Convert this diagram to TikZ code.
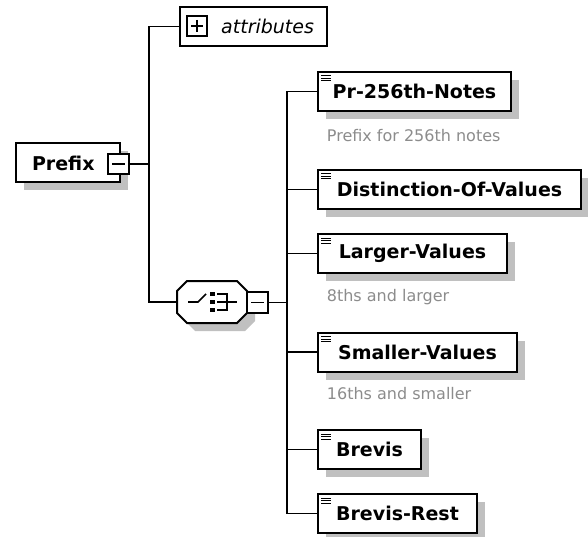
\documentclass[tikz,border=0pt]{standalone}
\usepackage{fontspec}
\setmainfont{DejaVu Sans}
\usetikzlibrary{calc,shadows}
\definecolor{SchemaShadow}{RGB}{192,192,192}
\definecolor{SchemaNote}{RGB}{140,140,140}
\newcommand{\elemfont}{\fontsize{19}{22}\selectfont\bfseries}
\newcommand{\attrfont}{\fontsize{19}{22}\selectfont\itshape}
\newcommand{\notefont}{\fontsize{16}{19}\selectfont}
\newcommand{\octpath}{(-35,-11) -- (-25,-21) -- (25,-21) -- (35,-11) -- (35,11) -- (25,21) -- (-25,21) -- (-35,11) -- cycle}

\begin{document}
\begin{tikzpicture}[x=1pt,y=-1pt,line width=1.8pt,
  shadowed/.style={drop shadow={shadow xshift=8pt,shadow yshift=-8pt,fill=SchemaShadow,opacity=1}},
  elem/.style={draw,fill=white,line width=2pt,shadowed,anchor=west,minimum height=39pt,inner sep=0pt,font=\elemfont},
  btn/.style={draw,fill=white,line width=2pt,minimum width=21pt,minimum height=20pt,inner sep=0pt},
  note/.style={anchor=west,inner sep=0pt,text=SchemaNote,font=\notefont}]
\useasboundingbox (0,0) rectangle (588,537);

\node[elem,minimum width=104pt,text width=72pt,inner xsep=16pt,align=left] (prefix) at (15,163) {Prefix};
\node[btn] (prefixbtn) at (118.5,164) {};
\draw (prefixbtn.center) ++(-6.5,0) -- ++(13,0);

\node[draw,fill=white,line width=2pt,anchor=west,minimum width=147pt,minimum height=39pt,
  inner xsep=13pt,inner ysep=0pt,text width=121pt,align=right,font=\attrfont] (attr) at (179,26.5) {attributes};
\node[btn,minimum width=20pt] (attrbtn) at (197,26) {};
\draw (attrbtn.center) ++(-6,0) -- ++(12,0) (attrbtn.center) ++(0,-6) -- ++(0,12);

% choice compositor
\node[minimum width=70pt,minimum height=42pt,inner sep=0pt] (choice) at (212,302) {};
\begin{scope}[shift={(choice.center)},line width=1.6pt]
\fill[SchemaShadow,shift={(8,8)}] \octpath;
\draw[fill=white,line width=2pt] \octpath;
\draw (-24,0) -- (-14,0) -- (-6,-8);
\foreach \d in {-8,0,8}
  \fill (-2,\d-2.5) rectangle (2.5,\d+2);
\draw (5,-8) -- (15,-8) -- (15,8) -- (5,8);
\draw (5,0) -- (25,0);
\end{scope}
\node[btn,minimum height=21pt] (choicebtn) at (257.5,302.5) {};
\draw (choicebtn.center) ++(-6.5,0) -- ++(13,0);

\node[elem,minimum width=193pt] (pr256) at (317,91.5) {Pr-256th-Notes};
\node[elem,minimum width=263pt] (distinction) at (317,189.5) {Distinction-Of-Values};
\node[elem,minimum width=189pt] (larger) at (317,253.5) {Larger-Values};
\node[elem,minimum width=199pt] (smaller) at (317,352) {Smaller-Values};
\node[elem,minimum width=103pt] (brevis) at (317,449.5) {Brevis};
\node[elem,minimum width=159pt] (brevisrest) at (317,513.5) {Brevis-Rest};
\foreach \n in {pr256,distinction,larger,smaller,brevis,brevisrest}
  \foreach \k in {5,7.5,10}
    \draw[line width=1pt] ($(\n.north west)+(4,\k)$) -- ++(10,0);

\node[note] (pr256note) at (326,136) {Prefix for 256th notes};
\node[note] (largernote) at (326,297) {8ths and larger};
\node[note] (smallernote) at (326,394) {16ths and smaller};

\coordinate (rootbus) at (149,0);
\coordinate (childbus) at (287,0);
\draw (prefixbtn.east) -- (prefixbtn.east -| rootbus);
\draw (attr.west) -- (attr.west -| rootbus) |- (choice.west);
\draw (choicebtn.east) -- (choicebtn.east -| childbus);
\draw (pr256.west) -- (pr256.west -| childbus) |- (brevisrest.west);
\foreach \n in {distinction,larger,smaller,brevis}
  \draw (\n.west) -- (\n.west -| childbus);
\end{tikzpicture}
\end{document}
